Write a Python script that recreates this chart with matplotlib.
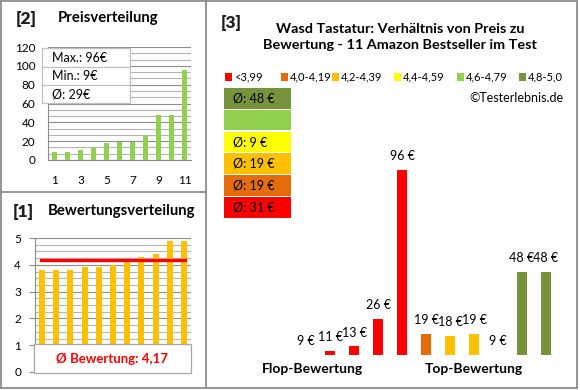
import matplotlib
matplotlib.use('Agg')
import matplotlib.pyplot as plt
from matplotlib.patches import Rectangle
from matplotlib.lines import Line2D
from matplotlib.ticker import MultipleLocator

plt.rcParams['font.family'] = ['Lato', 'DejaVu Sans']

# products in rating order (as in panel [3])
produkt_preise = [9, 11, 13, 26, 96, 19, 18, 19, 9, 48, 48]
produkt_bewertungen = [3.8, 3.8, 3.8, 3.9, 3.9, 4.0, 4.2, 4.3, 4.4, 4.9, 4.9]
durchschnitt_bewertung = 4.17

kategorien = ['<3,99', '4,0-4,19', '4,2-4,39', '4,4-4,59', '4,6-4,79', '4,8-5,0']
kategorie_grenzen = [0, 4.0, 4.2, 4.4, 4.6, 4.8, 5.01]
kategorie_farben = ['#FF0000', '#E46C0A', '#FFC000', '#FFFF00', '#92D050', '#77933C']

titel = 'Wasd Tastatur: Verhältnis von Preis zu\nBewertung - 11 Amazon Bestseller im Test'

W, H = 580, 390


def fx(x):
    return x / W


def fy(y):
    return 1 - y / H


def kategorie(b):
    for i in range(len(kategorien)):
        if kategorie_grenzen[i] <= b + 1e-9 < kategorie_grenzen[i + 1]:
            return i
    return len(kategorien) - 1


def rund(v):
    return int(v + 0.5)


fig = plt.figure(figsize=(W / 100, H / 100), dpi=100)
fig.patch.set_facecolor('white')


def rect(x0, y0, x1, y1, fc, ec='none', lw=0.8, z=2):
    fig.add_artist(Rectangle((fx(x0), fy(y1)), (x1 - x0) / W, (y1 - y0) / H,
                             transform=fig.transFigure, facecolor=fc, edgecolor=ec, lw=lw, zorder=z))


def line(x0, y0, x1, y1, color='#8C8C8C', lw=1.3):
    fig.add_artist(Line2D([fx(x0), fx(x1)], [fy(y0), fy(y1)], transform=fig.transFigure,
                          color=color, lw=lw, zorder=5))


# panel borders
line(1, 1, 577, 1)
line(1, 388, 577, 388)
line(1, 1, 1, 388)
line(577, 1, 577, 388)
line(206, 1, 206, 388)
line(1, 191.5, 206, 191.5)

grid_major = '#8E8E8E'
grid_minor = '#B4B4B4'

# ---- [2] Preisverteilung ----
preise_sortiert = sorted(produkt_preise)
x = list(range(1, len(preise_sortiert) + 1))
ax2 = fig.add_axes([fx(48), fy(160), (191 - 48) / W, (160 - 47) / H])
ax2.bar(x, preise_sortiert, width=0.4, color='#92D050', zorder=3)
ax2.set_xlim(0.5, 11.5)
ax2.set_ylim(0, 120)
ax2.yaxis.set_major_locator(MultipleLocator(20))
ax2.yaxis.set_minor_locator(MultipleLocator(20 / 3))
ax2.set_xticks([1, 3, 5, 7, 9, 11])
ax2.grid(axis='y', which='major', color=grid_major, lw=0.8, zorder=0)
ax2.grid(axis='y', which='minor', color=grid_minor, lw=0.8, zorder=0)
ax2.tick_params(axis='x', length=0, pad=11, labelsize=8.5)
ax2.tick_params(axis='y', which='both', length=0, pad=9, labelsize=8.5)
for s in ['top', 'right']:
    ax2.spines[s].set_visible(False)
for s in ['left', 'bottom']:
    ax2.spines[s].set_color('#8C8C8C')
fig.text(fx(16), fy(19), '[2]', fontsize=12.5, fontweight='heavy', va='center', color='#1F1F1F')
fig.text(fx(58), fy(18), 'Preisverteilung', fontsize=10.7, fontweight='bold', va='center')

# stat box
rect(42, 48, 130, 103, 'white', '#BFBFBF', 0.9, z=3)
line(42, 67, 130, 67, '#BFBFBF', 0.9)
line(42, 85, 130, 85, '#BFBFBF', 0.9)
stats = ['Max.: %d€' % max(produkt_preise), 'Min.: %d€' % min(produkt_preise),
         'Ø: %d€' % rund(sum(produkt_preise) / len(produkt_preise))]
for i, s in enumerate(stats):
    fig.text(fx(52), fy(58 + i * 18.3), s, fontsize=9, va='center', zorder=6)

# ---- [1] Bewertungsverteilung ----
bew_sortiert = sorted(produkt_bewertungen)
ax1 = fig.add_axes([fx(35), fy(372), (191 - 35) / W, (372 - 238) / H])
ax1.bar(x, bew_sortiert, width=0.42, color='#FFC000', zorder=3)
ax1.plot([0.9, 11.1], [durchschnitt_bewertung] * 2, color='#FF0000', lw=2.4, zorder=4)
ax1.set_xlim(0.5, 11.5)
ax1.set_ylim(0, 5)
ax1.yaxis.set_major_locator(MultipleLocator(1))
ax1.yaxis.set_minor_locator(MultipleLocator(0.25))
ax1.set_xticks([])
ax1.grid(axis='y', which='major', color=grid_major, lw=0.8, zorder=0)
ax1.grid(axis='y', which='minor', color=grid_minor, lw=0.8, zorder=0)
ax1.tick_params(axis='y', which='major', length=4, color='#8C8C8C', pad=6, labelsize=8.5)
ax1.tick_params(axis='y', which='minor', length=0)
for s in ['top', 'right', 'bottom']:
    ax1.spines[s].set_visible(False)
ax1.spines['left'].set_color('#8C8C8C')
fig.text(fx(13), fy(212), '[1]', fontsize=12.5, fontweight='heavy', va='center', color='#1F1F1F')
fig.text(fx(48), fy(211), 'Bewertungsverteilung', fontsize=10.7, fontweight='bold', va='center')
rect(34, 344, 191, 373, 'white', '#A6A6A6', 0.9, z=3)
fig.text(fx(112), fy(359), 'Ø Bewertung: ' + ('%.2f' % durchschnitt_bewertung).replace('.', ','),
         color='#FF0000', fontsize=9.5, fontweight='bold', ha='center', va='center', zorder=6)

# ---- [3] Preis zu Bewertung ----
ax3 = fig.add_axes([fx(294), fy(355), (558 - 294) / W, (355 - 150) / H])
farben = [kategorie_farben[kategorie(b)] for b in produkt_bewertungen]
ax3.bar(x, produkt_preise, width=0.42, color=farben, zorder=3)
ax3.set_xlim(0.5, 11.5)
ax3.set_ylim(9, 9 + 205 / 2.126)
ax3.axis('off')
for xi, p in zip(x, produkt_preise):
    ax3.annotate('%d €' % p, (xi, p), xytext=(0, 5.5), textcoords='offset points',
                 ha='center', va='bottom', fontsize=9)

fig.text(fx(221), fy(23), '[3]', fontsize=12.5, fontweight='heavy', va='center', color='#1F1F1F')
fig.text(fx(400), fy(37), titel, fontsize=10.4, fontweight='bold', ha='center', va='center',
         linespacing=1.4)

# legend
leg_x = [225, 281, 332, 394, 457, 519]
for lx, lab, c in zip(leg_x, kategorien, kategorie_farben):
    rect(lx, 73.5, lx + 7, 80.5, c, z=3)
    fig.text(fx(lx + 9), fy(77), lab, fontsize=8, va='center')
fig.text(fx(563), fy(98), '©Testerlebnis.de', fontsize=9, ha='right', va='center')

# average boxes, top = best category
for j, k in enumerate(reversed(range(len(kategorien)))):
    y0 = 88 + j * 21.8
    rect(224, y0, 291, y0 + 20.5, kategorie_farben[k], z=3)
    werte = [p for p, b in zip(produkt_preise, produkt_bewertungen) if kategorie(b) == k]
    if werte:
        fig.text(fx(233), fy(y0 + 10.5), 'Ø: %d €' % rund(sum(werte) / len(werte)),
                 fontsize=9, va='center', zorder=6)

fig.text(fx(312), fy(369), 'Flop-Bewertung', fontsize=10, fontweight='bold', ha='center', va='center')
fig.text(fx(474), fy(369), 'Top-Bewertung', fontsize=10, fontweight='bold', ha='center', va='center')

fig.savefig('out.png', dpi=100)
